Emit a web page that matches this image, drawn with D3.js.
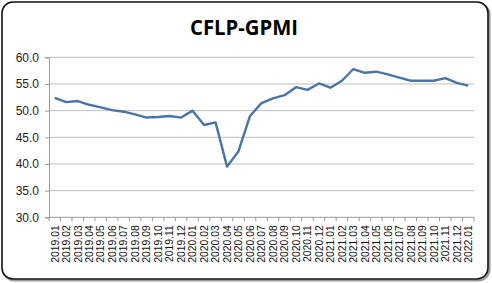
<!DOCTYPE html>
<html>
<head>
<meta charset="utf-8">
<script src="https://cdn.jsdelivr.net/npm/d3@7"></script>
<style>
  body { margin: 0; background: #fff; }
  svg { display: block; }
</style>
</head>
<body>
<script>
// months shown on the x axis
var months = [];
for (var y = 2019; y <= 2022; y += 1){
	for (var m = 1; m <= 12; m += 1){
		if (y == 2022 && m > 1) break;
		months.push(y + "." + (m < 10 ? "0" + m : m));
	}
}

// index values
var gpmi = [52.4, 51.6, 51.8, 51.1, 50.6, 50.1, 49.8, 49.3, 48.7, 48.8,
	49.0, 48.7, 50.0, 47.3, 47.8, 39.5, 42.4, 49.0, 51.4, 52.3,
	52.9, 54.4, 53.9, 55.1, 54.3, 55.6, 57.8, 57.1, 57.3, 56.8,
	56.2, 55.6, 55.6, 55.6, 56.1, 55.2, 54.7];

var yTicks = [30, 35, 40, 45, 50, 55, 60];

var W = 492, H = 283;
var svg = d3.select("body").append("svg")
	.attr("width", W)
	.attr("height", H);

// frame with a little shadow on the right/bottom
svg.append("rect")
	.attr("x", 3.5).attr("y", 3.5)
	.attr("width", 486).attr("height", 277)
	.attr("rx", 11).attr("ry", 11)
	.attr("fill", "none")
	.attr("stroke", "#999")
	.attr("stroke-width", 2);
svg.append("rect")
	.attr("x", 2).attr("y", 2)
	.attr("width", 486).attr("height", 277)
	.attr("rx", 11).attr("ry", 11)
	.attr("fill", "#fff")
	.attr("stroke", "#111")
	.attr("stroke-width", 1.6);

svg.append("text")
	.attr("x", 244).attr("y", 35)
	.attr("text-anchor", "middle")
	.attr("style", "font-family: 'Open Sans', sans-serif; font-weight: bold; font-size: 22px")
	.attr("textLength", 108)
	.attr("lengthAdjust", "spacingAndGlyphs")
	.attr("fill", "#000")
	.text("CFLP-GPMI");

var pLeft = 49, pRight = 474, pTop = 57.3, pBottom = 217.3;

var x = d3.scaleBand().domain(months).range([pLeft, pRight]);
var yScale = d3.scaleLinear().domain([30, 60]).range([pBottom, pTop]);

// gridlines
svg.append("g").selectAll("line")
	.data(yTicks.slice(1))
	.enter().append("line")
	.attr("x1", pLeft).attr("x2", pRight)
	.attr("y1", function(d){ return yScale(d); })
	.attr("y2", function(d){ return yScale(d); })
	.attr("stroke", "#bdbdbd")
	.attr("stroke-width", 1);

// y axis
var yAxis = svg.append("g")
	.attr("transform", "translate(" + pLeft + ",0)")
	.call(d3.axisLeft(yScale).tickValues(yTicks).tickFormat(d3.format(".1f")).tickSize(4).tickPadding(6));
yAxis.select(".domain").attr("stroke", "#9a9a9a");
yAxis.selectAll(".tick line").attr("stroke", "#9a9a9a");
yAxis.selectAll("text")
	.attr("style", "font-family: 'Liberation Sans', Arial, sans-serif; font-size: 12px")
	.attr("fill", "#222");

// x axis, ticks sit between categories
var xAxis = svg.append("g")
	.attr("transform", "translate(0," + pBottom + ")");
xAxis.append("line")
	.attr("x1", pLeft).attr("x2", pRight)
	.attr("y1", 0).attr("y2", 0)
	.attr("stroke", "#9a9a9a");
xAxis.selectAll(".tk")
	.data(d3.range(months.length + 1))
	.enter().append("line")
	.attr("class", "tk")
	.attr("x1", function(i){ return pLeft + i * x.step(); })
	.attr("x2", function(i){ return pLeft + i * x.step(); })
	.attr("y1", 0).attr("y2", 4)
	.attr("stroke", "#9a9a9a");
xAxis.selectAll(".lbl")
	.data(months)
	.enter().append("text")
	.attr("class", "lbl")
	.attr("transform", function(d){
		var cx = x(d) + x.bandwidth() / 2 + 3.8;
		return "translate(" + cx + ",8)rotate(-90)";
	})
	.attr("text-anchor", "end")
	.attr("style", "font-family: 'Liberation Sans', Arial, sans-serif; font-size: 10.4px")
	.attr("fill", "#111")
	.text(function(d){ return d; });

// line
var line = d3.line()
	.x(function(d, i){ return x(months[i]) + x.bandwidth() / 2; })
	.y(function(d){ return yScale(d); });

svg.append("path")
	.datum(gpmi)
	.attr("d", line)
	.attr("fill", "none")
	.attr("stroke", "#4a74a8")
	.attr("stroke-width", 2.4)
	.attr("stroke-linejoin", "round");
</script>
</body>
</html>
